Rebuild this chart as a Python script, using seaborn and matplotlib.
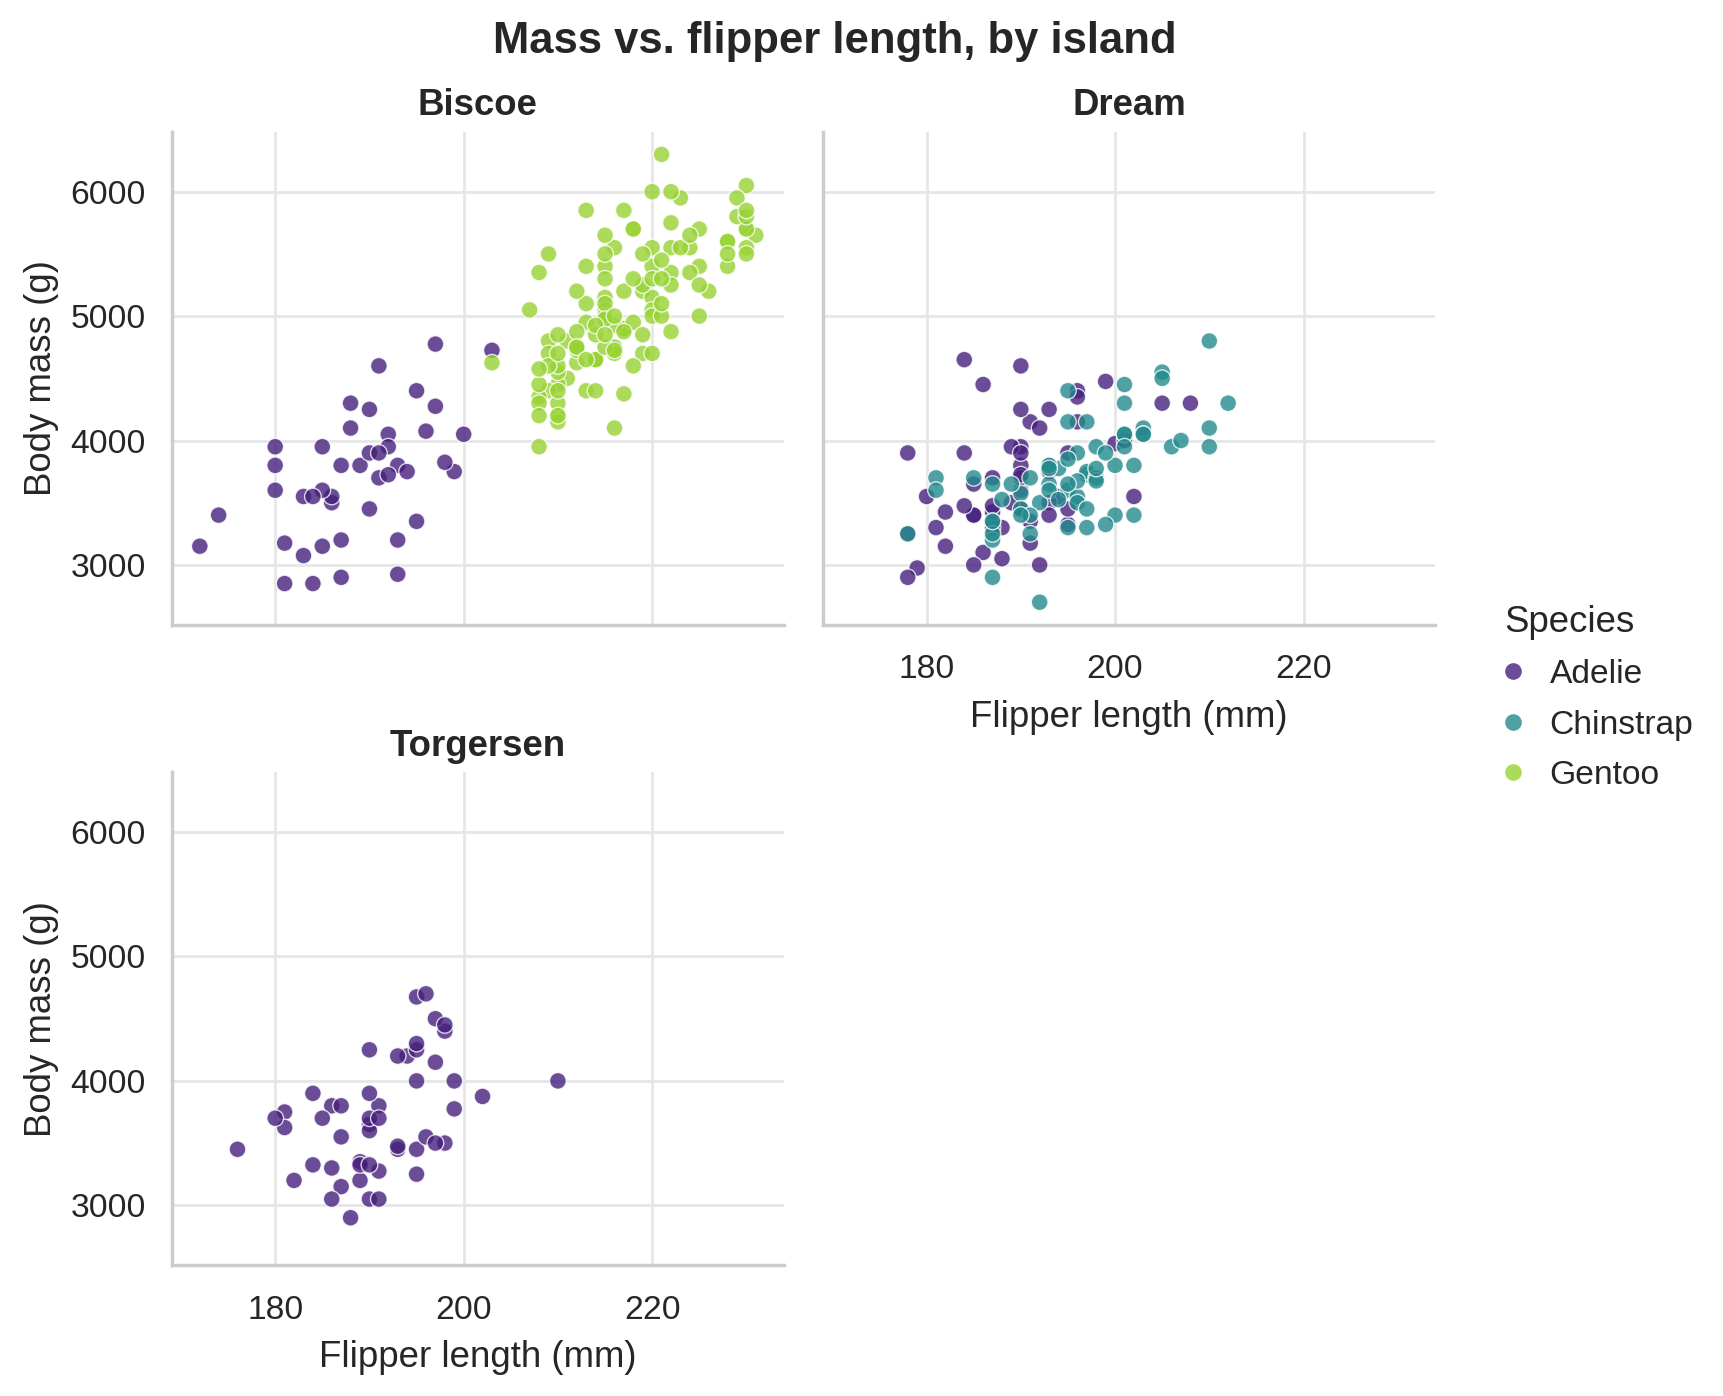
import pandas as pd
import matplotlib
matplotlib.use("Agg")
import matplotlib.pyplot as plt
import seaborn as sns

# Palmer penguins values
ISLANDS = ["Biscoe", "Dream", "Torgersen"]
SPECIES = ["Adelie", "Chinstrap", "Gentoo"]
SPECIES_COLORS = ["#461f7c", "#238a8c", "#97d333"]
X_TICKS = [180, 200, 220]
Y_TICKS = [3000, 4000, 5000, 6000]

# Adelie, Biscoe
biscoe_adelie_flipper = [174, 180, 189, 185, 180, 187, 183, 187, 172, 180,
                         186, 188, 190, 200, 187, 191, 186, 193, 181, 194,
                         185, 195, 185, 192, 184, 192, 195, 188,
                         192, 203, 183, 190, 193, 184, 199, 190, 181, 197,
                         198, 191, 193, 197, 191, 196]
biscoe_adelie_mass = [3400, 3600, 3800, 3950, 3800, 3800, 3550, 3200, 3150, 3950,
                      3500, 4300, 3450, 4050, 2900, 3700, 3550, 3800, 2850, 3750,
                      3150, 4400, 3600, 4050, 2850, 3950, 3350, 4100,
                      3725, 4725, 3075, 4250, 2925, 3550, 3750, 3900, 3175, 4775,
                      3825, 4600, 3200, 4275, 3900, 4075]

# Adelie, Torgersen
torgersen_adelie_flipper = [181, 186, 195, 193, 190, 181, 195, 193, 190, 186,
                            180, 182, 191, 198, 185, 195, 197, 184, 194,
                            190, 198, 190, 190, 196, 197, 190, 195, 191, 184,
                            187, 195, 189, 196, 187, 193,
                            188, 199, 189, 189, 187, 198, 176, 202, 186, 199,
                            191, 195, 191, 210, 190, 197]
torgersen_adelie_mass = [3750, 3800, 3250, 3450, 3650, 3625, 4675, 3475, 4250, 3300,
                         3700, 3200, 3800, 4400, 3700, 3450, 4500, 3325, 4200,
                         3050, 4450, 3600, 3900, 3550, 4150, 3700, 4250, 3700, 3900,
                         3550, 4000, 3200, 4700, 3800, 4200,
                         2900, 3775, 3350, 3325, 3150, 3500, 3450, 3875, 3050, 4000,
                         3275, 4300, 3050, 4000, 3325, 3500]

# Adelie, Dream
dream_adelie_flipper = [178, 178, 188, 184, 195, 196, 190, 180, 181, 184,
                        182, 195, 186, 196, 185, 190, 182, 179, 190, 191,
                        191, 194, 190, 189, 189, 190, 202, 205, 185, 186,
                        187, 208, 190, 196, 178, 192,
                        193, 199, 187, 190, 191, 200, 185, 193, 193, 187,
                        188, 190, 192, 185, 190, 184, 195, 193, 187, 201]
dream_adelie_mass = [3250, 3900, 3300, 3900, 3325, 4150, 3950, 3550, 3300, 4650,
                     3150, 3900, 3100, 4400, 3000, 4600, 3425, 2975, 3450, 4150,
                     3350, 3550, 3800, 3500, 3950, 3600, 3550, 4300, 3400, 4450,
                     3300, 4300, 3700, 4350, 2900, 4100,
                     3500, 4475, 3425, 3900, 3175, 3975, 3400, 4250, 3400, 3475,
                     3050, 3725, 3000, 3650, 4250, 3475, 3450, 3750, 3700, 4000]

# Chinstrap, Dream
dream_chinstrap_flipper = [192, 196, 193, 188, 197, 198, 178, 197, 195, 198,
                           193, 194, 185, 201, 190, 201, 197, 181, 190, 195,
                           181, 191, 187, 193, 195, 197, 200, 200, 191, 205,
                           187, 201, 187, 203, 195, 199, 195, 210, 192, 205,
                           210, 187, 196, 196, 196, 201, 190, 212, 187, 198,
                           199, 201, 193, 203, 187, 197, 191, 203, 202, 194,
                           206, 189, 195, 207, 202, 193, 210, 198]
dream_chinstrap_mass = [3500, 3900, 3650, 3525, 3725, 3950, 3250, 3750, 4150, 3700,
                        3800, 3775, 3700, 4050, 3575, 4050, 3300, 3700, 3450, 4400,
                        3600, 3400, 2900, 3800, 3300, 4150, 3400, 3800, 3700, 4550,
                        3200, 4300, 3350, 4100, 3600, 3900, 3850, 4800, 2700, 4500,
                        3950, 3650, 3550, 3500, 3675, 4450, 3400, 4300, 3250, 3675,
                        3325, 3950, 3600, 4050, 3350, 3450, 3250, 4050, 3800, 3525,
                        3950, 3650, 3650, 4000, 3400, 3775, 4100, 3775]

# Gentoo, Biscoe
biscoe_gentoo_flipper = [211, 230, 210, 218, 215, 210, 211, 219, 209, 215,
                         214, 216, 214, 213, 210, 217, 210, 221, 209, 222,
                         218, 215, 213, 215, 215, 215, 216, 215, 210, 220,
                         222, 209, 207, 230, 220, 220, 213, 219, 208, 208,
                         208, 225, 210, 216, 222, 217, 210, 225, 213, 215,
                         210, 220, 210, 225, 217, 220, 208, 220, 208, 224,
                         208, 221, 214, 231, 219, 230, 214, 229, 220, 223,
                         216, 221, 221, 217, 216, 230, 209, 220, 215, 223,
                         212, 221, 212, 224, 212, 228, 218, 218, 212, 230,
                         218, 228, 212, 224, 214, 226, 216, 222, 203, 225,
                         219, 228, 215, 228, 216, 215, 210, 219, 208, 209,
                         216, 229, 213, 230, 217, 230, 217, 222, 214, 215,
                         222, 212, 213]
biscoe_gentoo_mass = [4500, 5700, 4450, 5700, 5400, 4550, 4800, 5200, 4400, 5150,
                      4650, 5550, 4650, 5850, 4200, 5850, 4150, 6300, 4800, 5350,
                      5700, 5000, 4400, 5050, 5000, 5100, 4100, 5650, 4600, 5550,
                      5250, 4700, 5050, 6050, 5150, 5400, 4950, 5250, 4350, 5350,
                      3950, 5700, 4300, 4750, 5550, 4900, 4200, 5400, 5100, 5300,
                      4850, 5300, 4400, 5000, 4900, 5050, 4300, 5000, 4450, 5550,
                      4200, 5300, 4400, 5650, 4700, 5700, 4650, 5800, 4700, 5550,
                      4750, 5000, 5100, 5200, 4700, 5800, 4600, 6000, 4750, 5950,
                      4625, 5450, 4725, 5350, 4750, 5600, 4600, 5300, 4875, 5550,
                      4950, 5400, 4750, 5650, 4850, 5200, 4925, 4875, 4625, 5250,
                      4850, 5600, 4975, 5500, 4725, 5500, 4700, 5500, 4575, 5500,
                      5000, 5950, 4650, 5500, 4375, 5850, 4875, 6000, 4925, 4850,
                      5750, 5200, 5400]


def build_frame():
    groups = [
        ("Adelie", "Biscoe", biscoe_adelie_flipper, biscoe_adelie_mass),
        ("Adelie", "Dream", dream_adelie_flipper, dream_adelie_mass),
        ("Adelie", "Torgersen", torgersen_adelie_flipper, torgersen_adelie_mass),
        ("Chinstrap", "Dream", dream_chinstrap_flipper, dream_chinstrap_mass),
        ("Gentoo", "Biscoe", biscoe_gentoo_flipper, biscoe_gentoo_mass),
    ]
    frames = []
    for species, island, flipper, mass in groups:
        frames.append(pd.DataFrame({
            "species": species,
            "island": island,
            "flipper_length_mm": flipper,
            "body_mass_g": mass,
        }))
    return pd.concat(frames, ignore_index=True)


def main():
    sns.set_theme(style="whitegrid", context="notebook", font_scale=1.1,
                  rc={"grid.color": "#e6e6e6", "xtick.major.pad": 4.7})
    plt.rcParams["font.family"] = ["Liberation Sans", "DejaVu Sans"]

    df = build_frame()

    g = sns.relplot(
        data=df,
        x="flipper_length_mm",
        y="body_mass_g",
        hue="species",
        hue_order=SPECIES,
        col="island",
        col_order=ISLANDS,
        col_wrap=2,
        palette=SPECIES_COLORS,
        alpha=0.8,
        height=3.4,
        aspect=1.2,
    )
    g.set_titles("{col_name}", fontweight="bold")
    g.set_axis_labels("Flipper length (mm)", "Body mass (g)")
    for ax in g.axes.flat:
        ax.xaxis.labelpad = 5.2
    g.set(xticks=X_TICKS, yticks=Y_TICKS)
    g._legend.set_title("Species")

    fig = g.figure
    W, H = 1723, 1396
    fig.set_size_inches(W / 200, H / 200)
    fig.subplots_adjust(left=172 / W, right=1435 / W,
                        bottom=1 - 1265 / H, top=1 - 132 / H,
                        wspace=0.065, hspace=0.30)
    sns.move_legend(g, "center left", bbox_to_anchor=(1474 / W, 0.5),
                    frameon=False, handlelength=0.5, handletextpad=0.85,
                    labelspacing=0.58)
    g._legend._legend_box.align = "left"
    fig.suptitle("Mass vs. flipper length, by island", x=835 / W, y=1 - 21 / H,
                 va="top", fontsize=15.7, fontweight="bold")

    fig.savefig("out.png", dpi=200)
    plt.close(fig)


if __name__ == "__main__":
    main()
